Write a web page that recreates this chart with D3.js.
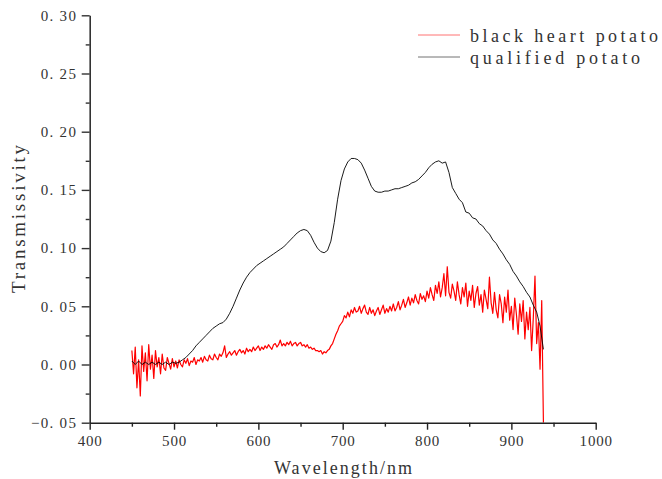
<!DOCTYPE html>
<html>
<head>
<meta charset="utf-8">
<script src="https://cdn.jsdelivr.net/npm/d3@7"></script>
<style>
  html, body { margin: 0; padding: 0; background: #fff; }
  svg { display: block; }
  text { font-family: "Liberation Serif", "DejaVu Serif", serif; fill: #333; }
</style>
</head>
<body>
<svg id="chart" width="662" height="479"></svg>
<script>
// ---- Data ----
const seriesNames = ["black heart potato", "qualified potato"];
const xTicks = [400, 500, 600, 700, 800, 900, 1000];
const yTicks = [-0.05, 0.00, 0.05, 0.10, 0.15, 0.20, 0.25, 0.30];

// black heart potato: sampled every 2 nm from 450 to 938 nm
const redStart = 450, redStep = 2;
const redValues = [
  0.012, -0.008, 0.015, -0.020, 0.004, -0.027, 0.016, -0.006, 0.010, -0.014,   // 450
  0.017, -0.004, 0.008, -0.012, 0.012, -0.002, 0.006, -0.008, 0.009, -0.003,   // 470
  -0.005, 0.006, 0.001, -0.004, 0.005, -0.002, 0.003, -0.003, 0.004, 0.000,    // 490
  -0.002, 0.004, 0.001, 0.005, -0.001, 0.003, 0.002, 0.006, 0.000, 0.004,      // 510
  0.003, 0.006, 0.002, 0.007, 0.004, 0.003, 0.008, 0.005, 0.004, 0.009,        // 530
  0.006, 0.004, 0.009, 0.007, 0.010, 0.016, 0.006, 0.009, 0.011, 0.008,        // 550
  0.010, 0.012, 0.008, 0.011, 0.013, 0.010, 0.012, 0.009, 0.014, 0.011,        // 570
  0.013, 0.011, 0.015, 0.012, 0.014, 0.016, 0.012, 0.015, 0.013, 0.016,        // 590
  0.014, 0.017, 0.015, 0.013, 0.017, 0.018, 0.015, 0.017, 0.021, 0.016,        // 610
  0.018, 0.016, 0.019, 0.017, 0.020, 0.016, 0.018, 0.019, 0.016, 0.018,        // 630
  0.019, 0.016, 0.017, 0.015, 0.017, 0.014, 0.015, 0.013, 0.014, 0.012,        // 650
  0.012, 0.011, 0.012, 0.009, 0.011, 0.010, 0.012, 0.013, 0.016, 0.018,        // 670
  0.022, 0.026, 0.029, 0.033, 0.035,                                           // 690
  0.037, 0.042, 0.040, 0.045, 0.041, 0.047, 0.044, 0.049, 0.045, 0.046,        // 700
  0.050, 0.044, 0.048, 0.051, 0.045, 0.043, 0.049, 0.044, 0.047, 0.042,        // 720
  0.046, 0.049, 0.043, 0.047, 0.051, 0.044, 0.048, 0.045, 0.050, 0.046,        // 740
  0.052, 0.046, 0.049, 0.054, 0.047, 0.051, 0.056, 0.049, 0.053, 0.058,        // 760
  0.051, 0.057, 0.053, 0.060, 0.055, 0.052, 0.061, 0.056, 0.059, 0.054,        // 780
  0.063, 0.057, 0.066, 0.060, 0.055, 0.068, 0.061, 0.071, 0.058, 0.066,        // 800
  0.078, 0.059, 0.084, 0.062, 0.057, 0.069, 0.063, 0.055, 0.071, 0.060,        // 820
  0.052, 0.066, 0.058, 0.070, 0.050, 0.063, 0.055, 0.068, 0.049, 0.061,        // 840
  0.067, 0.051, 0.060, 0.045, 0.064, 0.056, 0.048, 0.075, 0.053, 0.044,        // 860
  0.062, 0.047, 0.040, 0.060, 0.052, 0.036, 0.058, 0.045, 0.064, 0.038,        // 880
  0.050, 0.030, 0.057, 0.043, 0.026, 0.052, 0.037, 0.055, 0.022, 0.045,        // 900
  0.030, 0.049, 0.012, 0.040, 0.076, 0.018, 0.036, -0.004, 0.055, -0.050       // 920
];

// qualified potato: sampled every 4 nm from 450 to 938 nm
const blackStart = 450, blackStep = 4;
const blackValues = [
  0.003, 0.000, 0.003, 0.000, 0.002, 0.000, 0.002, 0.000, 0.002, 0.000,   // 450
  0.002, 0.000, 0.002, 0.001, 0.002, 0.004, 0.006, 0.009, 0.012, 0.016,   // 490
  0.019, 0.022, 0.025, 0.028, 0.031, 0.033, 0.035, 0.036, 0.039, 0.044,   // 530
  0.050, 0.057, 0.064, 0.070, 0.075, 0.079, 0.082, 0.085, 0.087, 0.089,   // 570
  0.091, 0.093, 0.095, 0.097, 0.099, 0.101, 0.104, 0.107, 0.110, 0.113,   // 610
  0.115, 0.116, 0.115, 0.111, 0.105, 0.100, 0.097, 0.096, 0.098, 0.106,   // 650
  0.122, 0.142, 0.158, 0.168, 0.174, 0.177, 0.177, 0.176, 0.173, 0.167,   // 690
  0.160, 0.153, 0.149, 0.148, 0.148, 0.149, 0.149, 0.150, 0.151, 0.151,   // 730
  0.152, 0.153, 0.154, 0.156, 0.157, 0.159, 0.162, 0.165, 0.169, 0.172,   // 770
  0.174, 0.175, 0.173, 0.174, 0.165, 0.152, 0.147, 0.142, 0.139, 0.131,   // 810
  0.130, 0.126, 0.125, 0.121, 0.119, 0.115, 0.112, 0.107, 0.104, 0.099,   // 850
  0.095, 0.090, 0.086, 0.080, 0.076, 0.071, 0.067, 0.062, 0.058, 0.051,   // 890
  0.045, 0.033, 0.013                                                     // 930
];

// ---- Chart ----
const svg = d3.select("#chart");
const mLeft = 89.7, mRight = 595.7, mTop = 15.3, mBottom = 422.7;

const x = d3.scaleLinear().domain([400, 1000]).range([mLeft, mRight]);
const y = d3.scaleLinear().domain([-0.05, 0.30]).range([mBottom, mTop]);

const redData = redValues.map((v, i) => ({ wl: redStart + i * redStep, v }));
const blackData = blackValues.map((v, i) => ({ wl: blackStart + i * blackStep, v }));

svg.append("clipPath").attr("id", "plotclip")
  .append("rect").attr("x", mLeft).attr("y", mTop)
  .attr("width", mRight - mLeft).attr("height", mBottom - mTop);

const line = d3.line().x(d => x(d.wl)).y(d => y(d.v));

const plot = svg.append("g").attr("clip-path", "url(#plotclip)");
plot.append("path").datum(redData)
  .attr("d", line).attr("fill", "none")
  .attr("stroke", "#ff0000").attr("stroke-width", 1.2)
  .attr("stroke-linejoin", "round");
plot.append("path").datum(blackData)
  .attr("d", line).attr("fill", "none")
  .attr("stroke", "#000").attr("stroke-width", 0.9)
  .attr("stroke-linejoin", "round");

const fmtY = d => (d < 0 ? "\u2212" : "") + Math.abs(d).toFixed(2).replace(".", ". ");

// Y axis
const yAxis = svg.append("g").attr("transform", `translate(${mLeft},0)`)
  .call(d3.axisLeft(y).tickValues(yTicks).tickSize(8).tickSizeOuter(0).tickPadding(4.5).tickFormat(fmtY));
yAxis.select(".domain").attr("stroke", "#333").attr("stroke-width", 1.6);
yAxis.selectAll(".tick line").attr("stroke", "#333").attr("stroke-width", 1.4);
yAxis.selectAll(".tick text").attr("font-size", 15).attr("letter-spacing", 1.3)
  .attr("fill", "#333").style("font-family", '"Liberation Serif", serif');

const yMinor = svg.append("g").attr("transform", `translate(${mLeft},0)`)
  .call(d3.axisLeft(y).tickValues(yTicks.slice(0, -1).map(t => +(t + 0.025).toFixed(3)))
    .tickSize(4).tickSizeOuter(0).tickFormat(""));
yMinor.select(".domain").remove();
yMinor.selectAll(".tick line").attr("stroke", "#333").attr("stroke-width", 1.4);

// X axis
const xAxis = svg.append("g").attr("transform", `translate(0,${mBottom})`)
  .call(d3.axisBottom(x).tickValues(xTicks).tickSize(7).tickSizeOuter(0).tickPadding(6).tickFormat(d3.format("d")));
xAxis.select(".domain").attr("stroke", "#222").attr("stroke-width", 1.6);
xAxis.selectAll(".tick line").attr("stroke", "#222").attr("stroke-width", 1.4);
xAxis.selectAll(".tick text").attr("font-size", 15).attr("letter-spacing", 0.8)
  .attr("fill", "#333").style("font-family", '"Liberation Serif", serif');

const xMinor = svg.append("g").attr("transform", `translate(0,${mBottom})`)
  .call(d3.axisBottom(x).tickValues(xTicks.slice(0, -1).map(t => t + 50))
    .tickSize(4).tickSizeOuter(0).tickFormat(""));
xMinor.select(".domain").remove();
xMinor.selectAll(".tick line").attr("stroke", "#222").attr("stroke-width", 1.4);

// Axis titles
svg.append("text").attr("x", 274).attr("y", 474)
  .attr("font-size", 18).attr("textLength", 138).attr("lengthAdjust", "spacing")
  .text("Wavelength/nm");

svg.append("text").attr("transform", "translate(25,219) rotate(-90)")
  .attr("text-anchor", "middle").attr("font-size", 19)
  .attr("textLength", 148).attr("lengthAdjust", "spacing")
  .text("Transmissivity");

// Legend
const legendColors = ["#ff0000", "#000"];
const legendY = [35, 57];
const legendWidths = [188, 170];
seriesNames.forEach((name, i) => {
  svg.append("line").attr("x1", 418).attr("x2", 460)
    .attr("y1", legendY[i]).attr("y2", legendY[i])
    .attr("stroke", legendColors[i]).attr("stroke-width", 1).attr("opacity", 0.55);
  svg.append("text").attr("x", 470).attr("y", legendY[i] + 6.5)
    .attr("font-size", 18).attr("textLength", legendWidths[i]).attr("lengthAdjust", "spacing")
    .attr("fill", "#444")
    .text(name);
});
</script>
</body>
</html>
